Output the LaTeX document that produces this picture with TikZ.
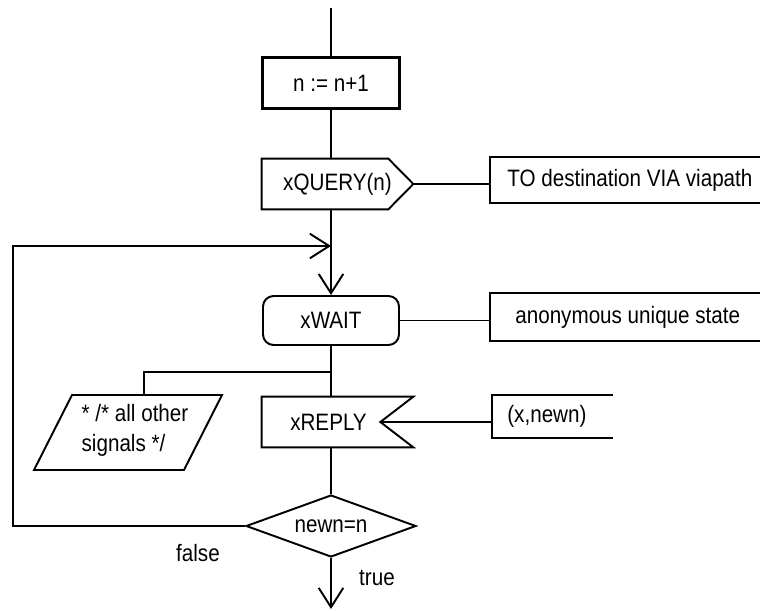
\documentclass[tikz,border=0pt]{standalone}
\usepackage{fontspec}
\setmainfont[FakeStretch=0.87]{Liberation Sans}
\usetikzlibrary{calc,shapes.geometric,arrows.meta}

\begin{document}
\begin{tikzpicture}[x=0.02cm,y=-0.02cm,
    every node/.style={font=\fontsize{13.5}{17}\selectfont, inner sep=0pt},
    line/.style={line width=1.1pt},
    flow/.style={line width=1.1pt,-{Straight Barb[length=11pt,width=14pt]}}]
    \useasboundingbox (0,0) rectangle (760,611);

    % Задача
    \node[draw, line width=1.6pt, minimum width=2.74cm, minimum height=1.02cm] (inc) at (331,83) {n := n+1};

    % Вихідний сигнал
    \node[minimum width=3.02cm, minimum height=1cm] (query) at (337.5,184) {xQUERY(n)};
    \draw[line] (query.north west) -- ($(query.north east)+(-25,0)$) -- (query.east)
        -- ($(query.south east)+(-25,0)$) -- (query.south west) -- cycle;

    % Коментар до сигналу
    \node[anchor=west, minimum height=0.92cm, inner xsep=0.34cm] (dest) at (490,180) {TO destination VIA viapath};
    \draw[line] ($(dest.north west)+(270,0)$) -- (dest.north west) -- (dest.south west) -- ($(dest.south west)+(270,0)$);
    \draw[line] (query.east) -- (query.east -| dest.west);

    % Стан
    \node[draw, line, rounded corners=6pt, minimum width=2.72cm, minimum height=0.98cm] (wait) at (331,320.5) {xWAIT};
    \node[anchor=west, minimum height=0.96cm, inner xsep=0.5cm] (anon) at (490,317) {anonymous unique state};
    \draw[line] ($(anon.north west)+(270,0)$) -- (anon.north west) -- (anon.south west) -- ($(anon.south west)+(270,0)$);
    \draw[line] (wait.east) -- (wait.east -| anon.west);

    % Вхідний сигнал
    \node[minimum width=2.66cm, minimum height=1cm] (reply) at (328.5,422) {xREPLY};
    \draw[line] (reply.north west) -- ($(reply.north east)+(18,0)$) -- ($(reply.east)+(-15,0)$) coordinate (notch)
        -- ($(reply.south east)+(18,0)$) -- (reply.south west) -- cycle;
    \node[anchor=west, minimum height=0.86cm, inner xsep=0.3cm] (args) at (492,416.5) {(x,newn)};
    \draw[line] ($(args.north west)+(121,0)$) -- (args.north west) -- (args.south west) -- ($(args.south west)+(121,0)$);
    \draw[line] (notch) -- (notch -| args.west);

    % Інші сигнали
    \node[align=left] (other) at (135,430) {* /* all other\\signals */};
    \draw[line] (72,395) -- (222,395) -- (184,470) -- (34,470) -- cycle;
    \coordinate (otop) at (144,395);

    % Рішення
    \node[diamond, draw, line, aspect=2.74, minimum width=3.4cm, minimum height=1.24cm] (dec) at (331,526) {newn=n};

    % Основна лінія
    \coordinate (top) at (331,8);
    \coordinate (join) at (331,246);
    \coordinate (fork) at (331,372);
    \coordinate (exit) at (331,609);
    \coordinate (corner) at (13,246);
    \draw[line] (top) -- (inc);
    \draw[line] (inc) -- (inc.south |- query.north);
    \draw[flow] (inc.south |- query.south) -- (wait);
    \draw[line] (wait) -- (wait.south |- reply.north);
    \draw[line] (fork) -| (otop);
    \draw[line] (wait.south |- reply.south) -- (dec);
    \draw[flow] (dec) -- (exit);
    \draw[flow] (dec.west) -| (corner) -- (join);

    % Підписи
    \node (lblfalse) at (198,553) {false};
    \node (lbltrue) at (377,578) {true};
\end{tikzpicture}
\end{document}
